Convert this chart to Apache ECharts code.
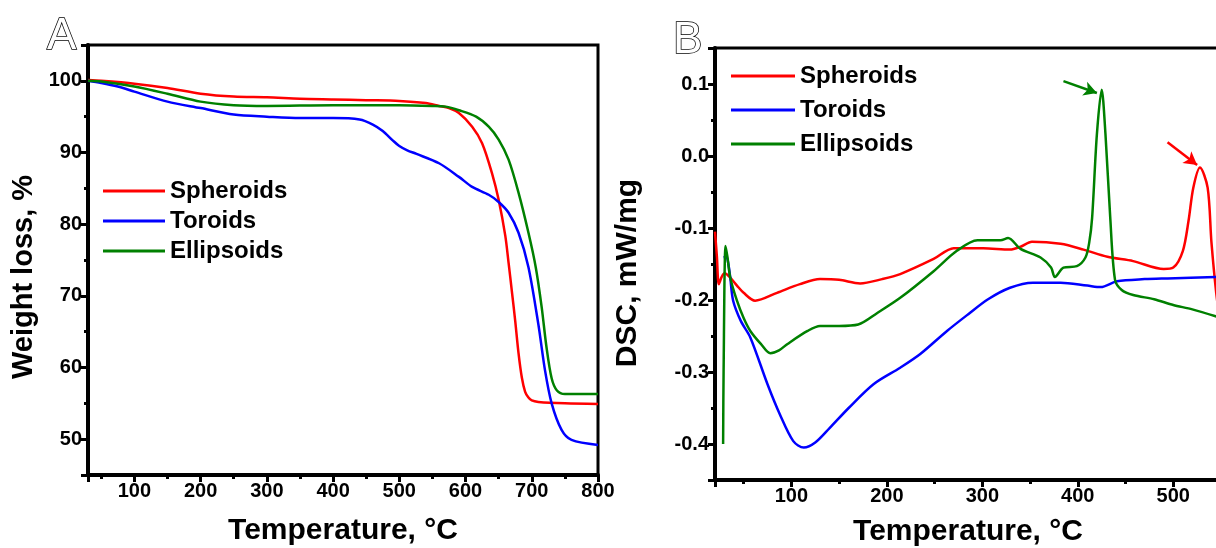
<!DOCTYPE html>
<html>
<head>
<meta charset="utf-8">
<script src="https://cdn.jsdelivr.net/npm/echarts@6/dist/echarts.min.js"></script>
<style>
html,body{margin:0;padding:0;background:#fff}
#main{width:1216px;height:548px}
</style>
</head>
<body>
<div id="main"></div>
<script>
var names = ['Spheroids', 'Toroids', 'Ellipsoids'];
var colors = ['#ff0000', '#0000ff', '#008000'];

// panel A, TGA: [temperature in °C, weight in %]
var tgaSpheroids = [[30,100.1],[50,100.0],[100,99.6],[150,99.0],[200,98.2],[250,97.8],[300,97.7],[350,97.5],
    [400,97.4],[450,97.3],[500,97.2],[540,96.9],[560,96.5],[575,96.2],[590,95.5],[610,93.6],[625,91.3],
    [640,87.1],[650,83.4],[660,78.4],[665,74.6],[670,70.6],[675,66.5],[680,62.0],[685,58.6],[690,56.6],
    [695,55.8],[700,55.4],[710,55.2],[750,55.0],[800,54.9]];
var tgaToroids = [[30,100.0],[50,99.7],[75,99.2],[100,98.5],[150,97.1],[200,96.2],[250,95.3],[300,95.0],
    [350,94.8],[400,94.8],[440,94.6],[460,93.9],[475,93.0],[490,91.7],[500,90.9],[512,90.3],[526,89.8],
    [560,88.5],[590,86.6],[610,85.2],[635,84.1],[650,83.1],[665,81.6],[680,78.8],[695,74.0],[710,66.0],
    [720,59.6],[730,55.0],[745,51.3],[760,49.9],[800,49.2]];
var tgaEllipsoids = [[30,100.0],[50,99.9],[100,99.2],[150,98.2],[200,97.1],[250,96.6],[300,96.5],[400,96.6],
    [500,96.6],[550,96.5],[570,96.4],[590,95.9],[616,95.0],[635,93.6],[650,91.8],[665,89.0],[680,84.4],
    [695,78.8],[706,74.0],[715,68.4],[722,63.0],[730,58.5],[738,56.8],[750,56.3],[800,56.3]];

// panel B, DSC: [temperature in °C, heat flow in mW/mg]
var dscSpheroids = [[20,-0.105],[22,-0.14],[24,-0.178],[27,-0.168],[30,-0.163],[36,-0.169],[43,-0.18],
    [50,-0.19],[62,-0.201],[85,-0.19],[109,-0.178],[130,-0.171],[150,-0.172],[172,-0.177],[195,-0.171],
    [214,-0.164],[249,-0.143],[270,-0.128],[301,-0.128],[329,-0.13],[340,-0.126],[352,-0.119],[382,-0.122],
    [406,-0.13],[431,-0.14],[458,-0.146],[490,-0.157],[500,-0.155],[510,-0.132],[516,-0.09],[521,-0.044],
    [528,-0.016],[536,-0.044],[540,-0.12],[545,-0.19],[550,-0.24]];
var dscToroids = [[29,-0.141],[32,-0.140],[34,-0.15],[36,-0.169],[39,-0.201],[47,-0.229],[57,-0.252],
    [75,-0.317],[88,-0.359],[102,-0.396],[113,-0.405],[125,-0.398],[140,-0.378],[160,-0.35],[186,-0.317],
    [214,-0.294],[235,-0.275],[263,-0.243],[285,-0.22],[306,-0.199],[329,-0.183],[353,-0.176],[382,-0.176],
    [410,-0.18],[424,-0.182],[441,-0.174],[470,-0.171],[494,-0.17],[550,-0.168]];
var dscEllipsoids = [[28.5,-0.40],[29,-0.30],[31,-0.125],[33,-0.14],[36,-0.169],[43,-0.201],[50,-0.225],
    [57,-0.243],[68,-0.261],[78,-0.274],[87,-0.27],[96,-0.261],[117,-0.243],[130,-0.236],[150,-0.236],
    [170,-0.234],[190,-0.218],[214,-0.197],[249,-0.16],[273,-0.132],[295,-0.117],[319,-0.117],[327,-0.114],
    [340,-0.129],[361,-0.141],[372,-0.155],[376,-0.168],[385,-0.155],[399,-0.153],[408,-0.141],[412,-0.12],
    [415,-0.086],[420,0.03],[425,0.092],[429,0.03],[434,-0.086],[439,-0.172],[446,-0.186],[458,-0.193],
    [480,-0.199],[500,-0.207],[520,-0.213],[550,-0.225]];

// arrows marking the exothermic peaks: [from, to]
var arrowEllipsoids = [[385,0.104],[420,0.0875]];
var arrowSpheroids = [[494,0.019],[525,-0.0125]];

var font = "'Liberation Sans',Arial,sans-serif";
var black = '#000';

function isStep(v, step) {
    var q = v / step;
    return Math.abs(q - Math.round(q)) < 1e-6;
}

function majorAxis(grid, pos, min, max, step, fmt, name, size, gap, pad) {
    return {
        type: 'value', gridIndex: grid, position: pos, min: min, max: max,
        minInterval: step, maxInterval: step,
        name: name, nameLocation: 'middle', nameGap: gap,
        nameTextStyle: {fontFamily: font, fontWeight: 'bold', fontSize: size, color: black, padding: pad || 0},
        axisLine: {show: true, onZero: false, lineStyle: {color: black, width: 4}},
        axisTick: {show: true, length: 7, lineStyle: {color: black, width: 3}},
        axisLabel: {fontFamily: font, fontWeight: 'bold', fontSize: 20, color: black, margin: 6, formatter: fmt},
        splitLine: {show: false}
    };
}

function minorAxis(grid, pos, min, max, step) {
    return {
        type: 'value', gridIndex: grid, position: pos, min: min, max: max,
        minInterval: step, maxInterval: step,
        axisLine: {show: false, onZero: false},
        axisTick: {show: true, length: 4, lineStyle: {color: black, width: 3}},
        axisLabel: {show: false},
        splitLine: {show: false}
    };
}

function line(name, data, grid, color, arrow) {
    var s = {
        name: name, type: 'line', data: data,
        xAxisIndex: grid * 2, yAxisIndex: grid * 2,
        color: color, symbol: 'none', smooth: 0.3,
        lineStyle: {width: 2.5, color: color},
        emphasis: {disabled: true}
    };
    if (arrow) {
        s.markLine = {
            silent: true, symbol: ['none', 'arrow'], symbolSize: [11, 13],
            label: {show: false},
            lineStyle: {color: color, width: 2.5, type: 'solid'},
            data: [[{coord: arrow[0]}, {coord: arrow[1]}]]
        };
    }
    return s;
}

var fmtX = function (v) { return isStep(v, 100) ? String(v) : ''; };
var fmtYA = function (v) { return isStep(v, 10) ? String(v) : ''; };
var fmtYB = function (v) { return isStep(v, 0.1) ? v.toFixed(1) : ''; };

var legendText = {fontFamily: font, fontWeight: 'bold', fontSize: 24, color: black, lineHeight: 28};
var letterStyle = {fontFamily: font, fontWeight: 'normal', fontSize: 44,
    color: '#fff', textBorderColor: black, textBorderWidth: 1.5};

var option = {
    animation: false,
    backgroundColor: '#fff',
    title: [
        {text: 'A', left: 42, top: 10, textStyle: letterStyle},
        {text: 'B', left: 668, top: 14, textStyle: letterStyle}
    ],
    legend: [
        {orient: 'vertical', left: 98, top: 172, icon: 'rect', itemWidth: 62, itemHeight: 3, itemGap: 2,
            data: names, textStyle: legendText},
        {orient: 'vertical', left: 726, top: 57, icon: 'rect', itemWidth: 64, itemHeight: 3, itemGap: 6,
            data: names, textStyle: legendText}
    ],
    grid: [
        {left: 88, top: 45, width: 510, height: 430, outerBoundsMode: 'none',
            show: true, borderColor: black, borderWidth: 3},
        {left: 715, top: 48, width: 506, height: 432, outerBoundsMode: 'none',
            show: true, borderColor: black, borderWidth: 3}
    ],
    xAxis: [
        majorAxis(0, 'bottom', 30, 800, 100, fmtX, 'Temperature, °C', 30, 41),
        minorAxis(0, 'bottom', 30, 800, 50),
        majorAxis(1, 'bottom', 20, 550, 100, fmtX, 'Temperature, °C', 30, 37),
        minorAxis(1, 'bottom', 20, 550, 50)
    ],
    yAxis: [
        majorAxis(0, 'left', 45, 105, 10, fmtYA, 'Weight loss, %', 29, 50, [0, 34, 0, 0]),
        minorAxis(0, 'left', 45, 105, 5),
        majorAxis(1, 'left', -0.45, 0.15, 0.1, fmtYB, 'DSC, mW/mg', 30, 72, [0, 18, 0, 0]),
        minorAxis(1, 'left', -0.45, 0.15, 0.05)
    ],
    series: [
        line(names[0], tgaSpheroids, 0, colors[0]),
        line(names[1], tgaToroids, 0, colors[1]),
        line(names[2], tgaEllipsoids, 0, colors[2]),
        line(names[0], dscSpheroids, 1, colors[0], arrowSpheroids),
        line(names[1], dscToroids, 1, colors[1]),
        line(names[2], dscEllipsoids, 1, colors[2], arrowEllipsoids)
    ]
};

var myChart = echarts.init(document.getElementById('main'));
myChart.setOption(option);
</script>
</body>
</html>
